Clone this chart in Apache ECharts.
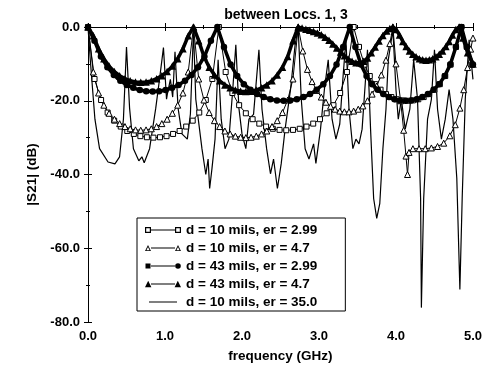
<!DOCTYPE html>
<html>
<head>
<meta charset="utf-8">
<script src="https://cdn.jsdelivr.net/npm/echarts@6/dist/echarts.min.js"></script>
<style>
  html, body { margin: 0; padding: 0; background: #fff; }
  #chart { width: 485px; height: 368px; }
</style>
</head>
<body>
<div id="chart"></div>
<script>
// |S21| in dB against frequency in GHz
const sq10er299 = [
  [0, 0], [0.085, -14.1], [0.17, -19.8], [0.255, -23.2], [0.34, -25.4], [0.425, -27.0], [0.51, -28.2],
  [0.595, -29.0], [0.68, -29.6], [0.765, -29.9], [0.85, -30], [0.935, -29.9], [1.02, -29.6], [1.105, -29.0],
  [1.19, -28.2], [1.275, -27.0], [1.36, -25.4], [1.445, -23.2], [1.53, -19.8], [1.615, -14.1], [1.70, 0],
  [1.788, -12.2], [1.875, -17.9], [1.963, -21.2], [2.05, -23.4], [2.138, -25.0], [2.225, -26.2], [2.313, -27.0],
  [2.40, -27.6], [2.488, -27.9], [2.575, -28], [2.663, -27.9], [2.75, -27.6], [2.838, -27.0], [2.925, -26.2],
  [3.013, -25.0], [3.10, -23.4], [3.188, -21.2], [3.275, -17.9], [3.363, -12.2], [3.45, 0],
  [3.52, -5.4], [3.59, -10.2], [3.66, -13.3], [3.73, -15.5], [3.80, -17.0], [3.87, -18.2], [3.94, -19.0],
  [4.01, -19.6], [4.08, -19.9], [4.15, -20], [4.22, -19.9], [4.29, -19.6], [4.36, -19.0], [4.43, -18.2],
  [4.50, -17.0], [4.57, -15.5], [4.64, -13.3], [4.71, -10.2], [4.78, -5.4], [4.85, 0], [4.92, -5.4], [4.99, -10.2]
];
const tri10er47 = [
  [0, 0], [0.069, -12.2], [0.137, -17.9], [0.206, -21.2], [0.274, -23.4], [0.343, -25.0], [0.411, -26.2],
  [0.48, -27.0], [0.548, -27.6], [0.617, -27.9], [0.685, -28], [0.754, -27.9], [0.822, -27.6], [0.891, -27.0],
  [0.959, -26.2], [1.028, -25.0], [1.096, -23.4], [1.165, -21.2], [1.233, -17.9], [1.302, -12.2], [1.37, 0],
  [1.438, -14.1], [1.506, -19.8], [1.574, -23.2], [1.642, -25.4], [1.71, -27.0], [1.778, -28.2], [1.846, -29.0],
  [1.914, -29.6], [1.982, -29.9], [2.05, -30], [2.118, -29.9], [2.186, -29.6], [2.254, -29.0], [2.322, -28.2],
  [2.39, -27.0], [2.458, -25.4], [2.526, -23.2], [2.594, -19.8], [2.662, -14.1], [2.73, 0],
  [2.79, -6.5], [2.85, -11.5], [2.91, -14.8], [2.97, -17.2], [3.03, -19.0], [3.09, -20.4], [3.15, -21.5],
  [3.21, -22.3], [3.27, -22.8], [3.33, -23], [3.39, -23], [3.45, -22.8], [3.51, -22.3], [3.57, -21.4],
  [3.63, -20.0], [3.69, -18.2], [3.75, -16.0], [3.81, -13.0], [3.87, -9.0], [3.92, -4.5], [3.96, 0],
  [4.0, -10], [4.06, -20], [4.1, -28], [4.13, -35], [4.15, -40], [4.17, -34], [4.22, -33], [4.3, -33],
  [4.38, -33], [4.46, -32.8], [4.54, -32.4], [4.62, -31.5], [4.7, -29.5], [4.77, -26.5], [4.83, -22],
  [4.88, -17], [4.93, -11], [4.97, -6], [5.0, -3]
];
const dot43er299 = [
  [0, 0], [0.084, -3.7], [0.168, -8.0], [0.252, -10.9], [0.336, -13.0], [0.42, -14.6], [0.504, -15.7],
  [0.588, -16.5], [0.672, -17.1], [0.756, -17.4], [0.84, -17.5], [0.924, -17.4], [1.008, -17.1], [1.092, -16.5],
  [1.176, -15.7], [1.26, -14.6], [1.344, -13.0], [1.428, -10.9], [1.512, -8.0], [1.596, -3.7], [1.68, 0],
  [1.766, -5.4], [1.852, -10.2], [1.938, -13.3], [2.024, -15.5], [2.11, -17.0], [2.196, -18.2], [2.282, -19.0],
  [2.368, -19.6], [2.454, -19.9], [2.54, -20], [2.626, -19.9], [2.712, -19.6], [2.798, -19.0], [2.884, -18.2],
  [2.97, -17.0], [3.056, -15.5], [3.142, -13.3], [3.228, -10.2], [3.314, -5.4], [3.40, 0],
  [3.473, -5.4], [3.545, -10.2], [3.618, -13.3], [3.69, -15.5], [3.763, -17.0], [3.835, -18.2], [3.908, -19.0],
  [3.98, -19.6], [4.053, -19.9], [4.125, -20], [4.198, -19.9], [4.27, -19.6], [4.343, -19.0], [4.415, -18.2],
  [4.488, -17.0], [4.56, -15.5], [4.633, -13.3], [4.705, -10.2], [4.778, -5.4], [4.85, 0], [4.92, -5.4], [5.0, -10.2]
];
const tri43er47 = [
  [0, 0], [0.069, -2.4], [0.137, -5.9], [0.206, -8.6], [0.274, -10.6], [0.343, -12.1], [0.411, -13.2],
  [0.48, -14.0], [0.548, -14.6], [0.617, -14.9], [0.685, -15], [0.754, -14.9], [0.822, -14.6], [0.891, -14.0],
  [0.959, -13.2], [1.028, -12.1], [1.096, -10.6], [1.165, -8.6], [1.233, -5.9], [1.302, -2.4], [1.37, 0],
  [1.438, -3.7], [1.506, -8.0], [1.574, -10.9], [1.642, -13.0], [1.71, -14.6], [1.778, -15.7], [1.846, -16.5],
  [1.914, -17.1], [1.982, -17.4], [2.05, -17.5], [2.118, -17.4], [2.186, -17.1], [2.254, -16.5], [2.322, -15.7],
  [2.39, -14.6], [2.458, -13.0], [2.526, -10.9], [2.594, -8.0], [2.662, -3.7], [2.73, 0],
  [2.78, -0.3], [2.83, -0.6], [2.88, -0.9], [2.93, -1.2], [2.98, -1.6], [3.03, -2.1], [3.08, -2.8],
  [3.13, -3.6], [3.18, -4.6], [3.23, -5.7], [3.28, -6.8], [3.33, -7.8], [3.38, -8.7], [3.43, -9.3],
  [3.48, -9.7], [3.53, -9.7], [3.58, -9.3], [3.63, -8.4], [3.68, -7.0], [3.73, -5.4], [3.78, -3.8],
  [3.83, -2.3], [3.88, -1.1], [3.92, -0.4], [3.96, 0],
  [4.003, -0.7], [4.046, -2.2], [4.089, -3.9], [4.132, -5.3], [4.175, -6.5], [4.218, -7.4], [4.261, -8.1],
  [4.304, -8.6], [4.347, -8.9], [4.39, -9], [4.433, -8.9], [4.476, -8.6], [4.519, -8.1], [4.562, -7.4],
  [4.605, -6.5], [4.648, -5.3], [4.691, -3.9], [4.734, -2.2], [4.777, -0.7], [4.82, 0], [4.87, -3], [4.93, -7], [5.0, -10]
];
const line10er35 = [
  [0, 0], [0.03, -9], [0.09, -25], [0.15, -33], [0.26, -36.6], [0.35, -37.1], [0.41, -35.2], [0.46, -25],
  [0.50, -5.4], [0.54, -22], [0.59, -33], [0.66, -36.3], [0.70, -35.2], [0.73, -36.8], [0.80, -33], [0.88, -22],
  [0.93, -14], [0.98, -5.6], [1.02, -19.6], [1.03, -18.3], [1.07, -14.2], [1.10, -19], [1.13, -6.7], [1.17, -22],
  [1.22, -29], [1.29, -30.4], [1.33, -23.6], [1.37, -0.8], [1.40, -19.6], [1.48, -33], [1.53, -40], [1.56, -35.8],
  [1.58, -43.8], [1.61, -38.4], [1.65, -30.4], [1.69, -8.9], [1.73, -25], [1.78, -33], [1.83, -30.4], [1.88, -17],
  [1.92, -4.8], [1.96, -22], [2.0, -29], [2.05, -33], [2.09, -25], [2.15, -23.7], [2.22, -6.2], [2.26, -22.3],
  [2.32, -33], [2.37, -39.8], [2.41, -35.8], [2.46, -43.8], [2.51, -37], [2.56, -27.7], [2.63, -17], [2.69, -4.8],
  [2.73, -0.3], [2.77, -19.6], [2.82, -33], [2.87, -35.8], [2.93, -31.7], [2.96, -37], [3.02, -27.7], [3.07, -17],
  [3.12, -8.9], [3.17, -25], [3.22, -30.4], [3.27, -26.3], [3.31, -14.2], [3.35, -3.5], [3.39, -22.3], [3.44, -33],
  [3.48, -30.4], [3.52, -31.7], [3.56, -27.7], [3.60, -15.6], [3.63, -6.2], [3.67, -27.7], [3.71, -46.5],
  [3.75, -51.9], [3.79, -47.8], [3.83, -33], [3.87, -22.3], [3.90, -8.9], [3.96, -0.8], [4.0, -17], [4.03, -25],
  [4.07, -19.6], [4.12, -27.7], [4.18, -22.3], [4.23, -8.9], [4.28, -19.6], [4.32, -46.5], [4.33, -76.1],
  [4.36, -46.5], [4.41, -25], [4.46, -19.6], [4.50, -6.2], [4.54, -22.3], [4.59, -30.4], [4.64, -25], [4.69, -17],
  [4.74, -25], [4.79, -41], [4.83, -71.2], [4.86, -46.5], [4.90, -19.6], [4.95, -3.5], [5.0, -14.2]
];

const legendNames = [
  'd = 10 mils, er = 2.99',
  'd = 10 mils, er = 4.7',
  'd = 43 mils, er = 2.99',
  'd = 43 mils, er = 4.7',
  'd = 10 mils, er = 35.0'
];

// legend icons: marker - line - marker, drawn in a 36 x 7 box
const box = 'M0,0h0.01v0.01h-0.01z M36,7h-0.01v-0.01h0.01z ';
const stem = 'M6,3.1h24v0.9h-24z ';
const icons = [
  'path://' + box + 'M0,0.5h6v6h-6z M1.2,1.7v3.6h3.6v-3.6z ' + stem + 'M30,0.5h6v6h-6z M31.2,1.7v3.6h3.6v-3.6z',
  'path://' + box + 'M0,6.5L3,0.5L6,6.5z M1.4,5.7L4.6,5.7L3,2.4z ' + stem + 'M30,6.5L33,0.5L36,6.5z M31.4,5.7L34.6,5.7L33,2.4z',
  'path://' + box + 'M0.5,1h5v5h-5z ' + stem + 'M30.2,3.5a2.8,2.8 0 1,0 5.6,0a2.8,2.8 0 1,0 -5.6,0z',
  'path://' + box + 'M0,6.8L3.2,0.2L6.4,6.8z ' + stem + 'M29.6,6.8L32.8,0.2L36,6.8z',
  'path://' + box + 'M4,3.1h28v0.9h-28z'
];

const FONT = '"Liberation Sans", Arial, Helvetica, sans-serif';
const chart = echarts.init(document.getElementById('chart'));

const axisBase = {
  axisLine: { show: true, lineStyle: { color: '#000', width: 1 } },
  axisTick: { show: true, inside: true, length: 4, lineStyle: { color: '#000' } },
  minorTick: { show: true, splitNumber: 2, length: 2, lineStyle: { color: '#000' } },
  splitLine: { show: false },
  minorSplitLine: { show: false }
};
const labelText = { fontFamily: FONT, fontSize: 13, fontWeight: 'bold', color: '#000' };
const nameText = { fontFamily: FONT, fontSize: 13.5, fontWeight: 'bold', color: '#000' };

chart.setOption({
  animation: false,
  backgroundColor: '#fff',
  title: {
    text: 'between Locs. 1, 3',
    left: 281,
    textAlign: 'center',
    top: 3,
    textStyle: { fontFamily: FONT, fontSize: 14, fontWeight: 'bold', color: '#000' }
  },
  grid: { left: 88, right: 7, top: 27, bottom: 45 },
  legend: {
    orient: 'vertical',
    left: 137,
    top: 218,
    data: legendNames.map((n, i) => ({ name: n, icon: icons[i] })),
    itemWidth: 36,
    itemHeight: 7,
    itemGap: 4,
    itemTextGap: 6,
    padding: [5, 28, 2, 8],
    borderColor: '#000',
    borderWidth: 1,
    backgroundColor: '#fff',
    itemStyle: { color: '#000', borderWidth: 0 },
    textStyle: { fontFamily: FONT, fontSize: 13.5, fontWeight: 'bold', color: '#000', lineHeight: 14 }
  },
  xAxis: [
    Object.assign({}, axisBase, {
      type: 'value', min: 0, max: 5, interval: 1,
      name: 'frequency (GHz)', nameLocation: 'middle', nameGap: 27, nameTextStyle: nameText,
      axisLabel: Object.assign({ formatter: v => v.toFixed(1), margin: 8 }, labelText)
    }),
    Object.assign({}, axisBase, {
      type: 'value', min: 0, max: 5, interval: 1, position: 'top',
      axisLabel: { show: false }
    })
  ],
  yAxis: [
    Object.assign({}, axisBase, {
      type: 'value', min: -80, max: 0, interval: 20,
      name: '|S21| (dB)', nameLocation: 'middle', nameGap: 43, nameTextStyle: nameText,
      axisLabel: Object.assign({ formatter: v => v.toFixed(1), margin: 8 }, labelText)
    }),
    Object.assign({}, axisBase, {
      type: 'value', min: -80, max: 0, interval: 20, position: 'right',
      axisLabel: { show: false }
    })
  ],
  series: [
    {
      name: legendNames[4], type: 'line', data: line10er35, symbol: 'none', z: 2,
      lineStyle: { color: '#000', width: 1.2 }, itemStyle: { color: '#000' }
    },
    {
      name: legendNames[0], type: 'line', data: sq10er299, symbol: 'rect', symbolSize: 5, z: 3,
      lineStyle: { color: '#000', width: 1 }, itemStyle: { color: '#fff', borderColor: '#000', borderWidth: 1 }
    },
    {
      name: legendNames[1], type: 'line', data: tri10er47, symbol: 'triangle', symbolSize: 6, z: 3,
      lineStyle: { color: '#000', width: 1 }, itemStyle: { color: '#fff', borderColor: '#000', borderWidth: 1 }
    },
    {
      name: legendNames[2], type: 'line', data: dot43er299, symbol: 'circle', symbolSize: 6.5, z: 4,
      lineStyle: { color: '#000', width: 3.5 }, itemStyle: { color: '#000' }
    },
    {
      name: legendNames[3], type: 'line', data: tri43er47, symbol: 'triangle', symbolSize: 7.5, z: 4,
      lineStyle: { color: '#000', width: 3.5 }, itemStyle: { color: '#000' }
    }
  ]
});
</script>
</body>
</html>
